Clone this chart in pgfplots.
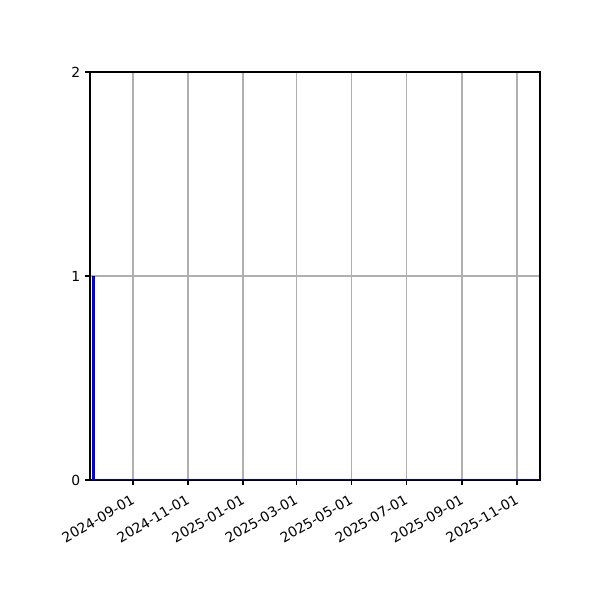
\documentclass[border=0pt]{standalone}
\usepackage{fontspec}
\setmainfont{DejaVu Sans}
\usepackage{pgfplots}
\pgfplotsset{compat=1.18}
\definecolor{gridgray}{HTML}{B0B0B0}
\begin{document}
\begin{tikzpicture}
\path[use as bounding box] (0,0) rectangle (432pt,432pt);
\begin{axis}[
  at={(64.8pt,86.4pt)}, anchor=south west,
  scale only axis,
  width=324pt, height=293.76pt,
  xmin=-47.7, xmax=451.5,
  ymin=0, ymax=2,
  xtick={0,61,122,181,242,303,365,426},
  xticklabels={2024-09-01,2024-11-01,2025-01-01,2025-03-01,2025-05-01,2025-07-01,2025-09-01,2025-11-01},
  ytick={0,1,2},
  x tick label style={xshift=-1.8pt, yshift=-6.3pt, rotate=30, anchor=north east, inner sep=0pt},
  tick label style={font=\fontsize{10}{12}\selectfont},
  /pgf/number format/assume math mode=true,
  grid=major,
  major grid style={color=gridgray, line width=0.8pt},
  axis line style={line width=0.8pt},
  tick style={black, line width=0.8pt},
  tick align=outside,
  major tick length=3.5pt,
  xtick pos=bottom, ytick pos=left,
]
\addplot[ybar, bar width=3.2, fill=blue, draw=blue!85!black, line width=0.4pt] coordinates {(-44.0,1)};
\addplot[draw=blue!70!black, line width=1.2pt] coordinates {(-45.5,0) (451.5,0)};
\end{axis}
\end{tikzpicture}
\end{document}
